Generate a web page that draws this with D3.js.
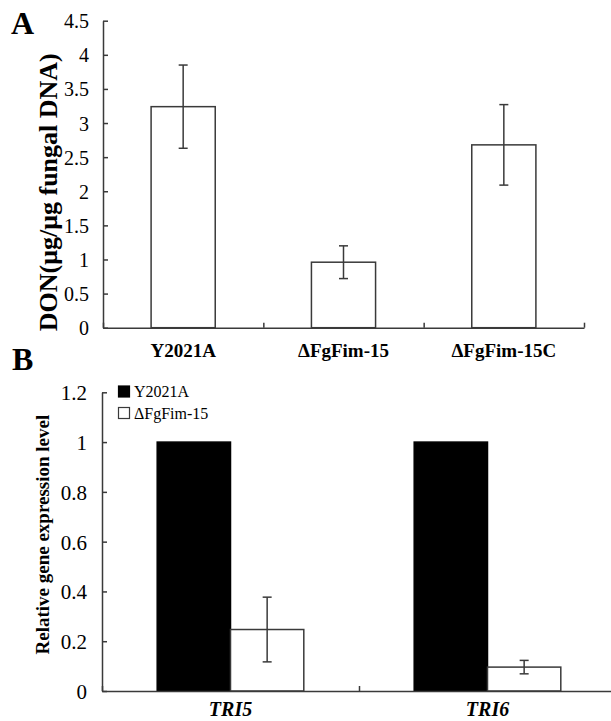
<!DOCTYPE html>
<html>
<head>
<meta charset="utf-8">
<script src="https://cdn.jsdelivr.net/npm/d3@7/dist/d3.min.js"></script>
<style>
  html, body { margin: 0; padding: 0; background: #fff; }
  svg { display: block; }
</style>
</head>
<body>
<svg id="chart" width="611" height="721" font-family="'Liberation Serif', 'Times New Roman', serif"></svg>
<script>
// ---------- Data ----------
const strainsA = ["Y2021A", "ΔFgFim-15", "ΔFgFim-15C"];
const donValues = [3.24, 0.96, 2.68];
const donErrors = [0.61, 0.24, 0.59];
const ticksA = [0, 0.5, 1, 1.5, 2, 2.5, 3, 3.5, 4, 4.5];

const genes = ["TRI5", "TRI6"];
const seriesB = ["Y2021A", "ΔFgFim-15"];
const wildTypeExpr = [1, 1];
const mutantExpr = [0.247, 0.096];
const mutantErrors = [0.13, 0.027];
const ticksB = [0, 0.2, 0.4, 0.6, 0.8, 1, 1.2];

// ---------- Setup ----------
const FONT = "'Liberation Serif', 'Times New Roman', serif";
const svg = d3.select("#chart");
svg.append("rect").attr("width", 611).attr("height", 721).attr("fill", "#fff");
const stroke = "#3a3a3a";
const sw = 1.5;

function styleAxis(g) {
  g.attr("font-family", FONT);
  g.selectAll("path, line").attr("stroke", stroke).attr("stroke-width", sw);
  g.selectAll("text").style("font-family", FONT).attr("fill", "#000");
}

// ================= Panel A =================
const aLeft = 103, aRight = 584, aTop = 20.7, aBottom = 327.7;
const xA = d3.scaleBand().domain(strainsA).range([aLeft, aRight])
  .paddingInner(0.6).paddingOuter(0.3);
const yA = d3.scaleLinear().domain([0, 4.5]).range([aBottom, aTop]);
const xAb = d3.scaleLinear().domain([0, strainsA.length]).range([aLeft, aRight]);

// bars
svg.append("g").selectAll("rect").data(strainsA).join("rect")
  .attr("x", d => xA(d))
  .attr("width", xA.bandwidth())
  .attr("y", (d, i) => yA(donValues[i]))
  .attr("height", (d, i) => yA(0) - yA(donValues[i]))
  .attr("fill", "#fff").attr("stroke", stroke).attr("stroke-width", sw);

// error bars
const capA = 4.5;
const errA = svg.append("g").attr("stroke", stroke).attr("stroke-width", sw);
strainsA.forEach((d, i) => {
  const cx = xA(d) + xA.bandwidth() / 2;
  const yt = yA(donValues[i] + donErrors[i]);
  const yb = yA(donValues[i] - donErrors[i]);
  errA.append("line").attr("x1", cx).attr("x2", cx).attr("y1", yt).attr("y2", yb);
  errA.append("line").attr("x1", cx - capA).attr("x2", cx + capA).attr("y1", yt).attr("y2", yt);
  errA.append("line").attr("x1", cx - capA).attr("x2", cx + capA).attr("y1", yb).attr("y2", yb);
});

// y axis A
const gyA = svg.append("g").attr("transform", `translate(${aLeft},0)`)
  .call(d3.axisLeft(yA).tickValues(ticksA).tickFormat(d3.format("~g"))
    .tickSizeInner(-5).tickSizeOuter(0).tickPadding(14));
styleAxis(gyA);
gyA.selectAll("text").style("font-size", "20px").attr("dy", "0.35em");

// x axis A (boundaries)
const gxA = svg.append("g").attr("transform", `translate(0,${aBottom})`)
  .call(d3.axisBottom(xAb).tickValues(d3.range(strainsA.length + 1))
    .tickSizeInner(-5).tickSizeOuter(0).tickFormat(""));
styleAxis(gxA);

// x labels A
const glA = svg.append("g").attr("transform", `translate(0,${aBottom})`)
  .call(d3.axisBottom(xA).tickSize(0).tickPadding(29));
glA.select(".domain").remove();
styleAxis(glA);
glA.selectAll("text").attr("dy", "0").style("font-size", "19px").style("font-weight", "bold");

// y title A
svg.append("text")
  .attr("transform", `translate(57,${(aTop + aBottom) / 2 + 18}) rotate(-90)`)
  .attr("text-anchor", "middle")
  .style("font-family", FONT)
  .style("font-size", "26px").style("font-weight", "bold")
  .text("DON(μg/μg fungal DNA)");

// panel letter A
svg.append("text").attr("x", 11).attr("y", 34)
  .style("font-family", FONT)
  .style("font-size", "32px").style("font-weight", "bold").text("A");

// ================= Panel B =================
const bLeft = 102, bRight = 616, bTop = 392.3, bBottom = 691;
const xB = d3.scaleBand().domain(genes).range([bLeft, bRight]).padding(0);
const xSub = d3.scaleBand().domain(seriesB).range([0, xB.bandwidth()])
  .paddingInner(0).paddingOuter(0.753);
const yB = d3.scaleLinear().domain([0, 1.2]).range([bBottom, bTop]);
const xBb = d3.scaleLinear().domain([0, genes.length]).range([bLeft, bRight]);

const fills = ["#000", "#fff"];
const valsB = [wildTypeExpr, mutantExpr];

// bars B
seriesB.forEach((s, si) => {
  svg.append("g").selectAll("rect").data(genes).join("rect")
    .attr("x", d => xB(d) + xSub(s))
    .attr("width", xSub.bandwidth())
    .attr("y", (d, i) => yB(valsB[si][i]))
    .attr("height", (d, i) => yB(0) - yB(valsB[si][i]))
    .attr("fill", fills[si])
    .attr("stroke", si === 0 ? "#000" : stroke)
    .attr("stroke-width", sw);
});

// error bars B (mutant)
const capB = 4.5;
const errB = svg.append("g").attr("stroke", stroke).attr("stroke-width", sw);
genes.forEach((g, i) => {
  const cx = xB(g) + xSub(seriesB[1]) + xSub.bandwidth() / 2;
  const yt = yB(mutantExpr[i] + mutantErrors[i]);
  const yb = yB(mutantExpr[i] - mutantErrors[i]);
  errB.append("line").attr("x1", cx).attr("x2", cx).attr("y1", yt).attr("y2", yb);
  errB.append("line").attr("x1", cx - capB).attr("x2", cx + capB).attr("y1", yt).attr("y2", yt);
  errB.append("line").attr("x1", cx - capB).attr("x2", cx + capB).attr("y1", yb).attr("y2", yb);
});

// y axis B
const gyB = svg.append("g").attr("transform", `translate(${bLeft},0)`)
  .call(d3.axisLeft(yB).tickValues(ticksB).tickFormat(d3.format("~g"))
    .tickSizeInner(-5).tickSizeOuter(0).tickPadding(15));
styleAxis(gyB);
gyB.selectAll("text").style("font-size", "21px").attr("dy", "0.35em");

// x axis B
const gxB = svg.append("g").attr("transform", `translate(0,${bBottom})`)
  .call(d3.axisBottom(xBb).tickValues(d3.range(genes.length + 1))
    .tickSizeInner(-5).tickSizeOuter(0).tickFormat(""));
styleAxis(gxB);

// x labels B
const glB = svg.append("g").attr("transform", `translate(0,${bBottom})`)
  .call(d3.axisBottom(xB).tickSize(0).tickPadding(25));
glB.select(".domain").remove();
styleAxis(glB);
glB.selectAll("text").attr("dy", "0").style("font-size", "20px")
  .style("font-weight", "bold").style("font-style", "italic");

// y title B
svg.append("text")
  .attr("transform", `translate(49,${(bTop + bBottom) / 2 - 7}) rotate(-90)`)
  .attr("text-anchor", "middle")
  .style("font-family", FONT)
  .style("font-size", "19px").style("font-weight", "bold")
  .text("Relative gene expression level");

// legend B
const legend = svg.append("g").attr("transform", "translate(118,386)");
seriesB.forEach((s, si) => {
  const row = legend.append("g").attr("transform", `translate(0,${si * 21.5})`);
  row.append("rect").attr("x", 0.5).attr("y", 0).attr("width", 11).attr("height", 11)
    .attr("fill", fills[si]).attr("stroke", si === 0 ? "#000" : stroke).attr("stroke-width", 1.2);
  row.append("text").attr("x", 16).attr("y", 11)
    .style("font-family", FONT).style("font-size", "16px").text(s);
});

// panel letter B
svg.append("text").attr("x", 12).attr("y", 370)
  .style("font-family", FONT)
  .style("font-size", "32px").style("font-weight", "bold").text("B");
</script>
</body>
</html>
